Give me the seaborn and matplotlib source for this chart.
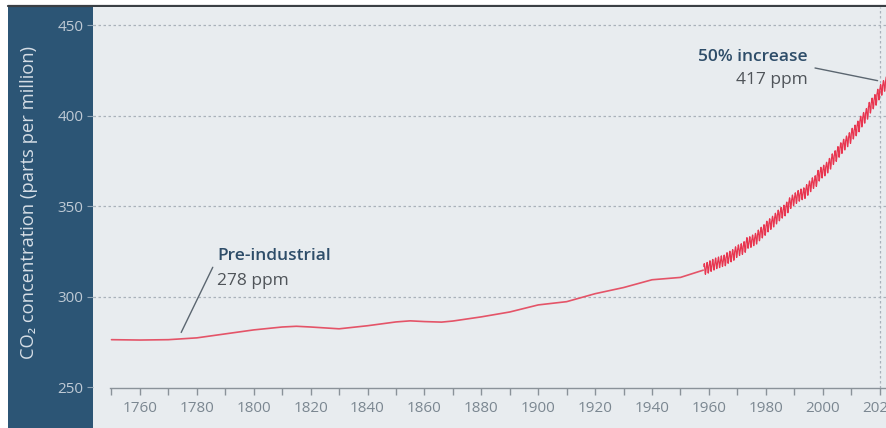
import matplotlib
matplotlib.use("Agg")
import matplotlib.pyplot as plt
from matplotlib.patches import Rectangle
from matplotlib.lines import Line2D
from matplotlib.ticker import MultipleLocator
import numpy as np
import pandas as pd
import seaborn as sns

# Ice-core era (smoothed record)
ice_years = [1750, 1760, 1770, 1780, 1790, 1800, 1810, 1815, 1820, 1830, 1840,
             1850, 1855, 1860, 1866, 1870, 1880, 1890, 1900, 1910, 1920, 1930,
             1940, 1950, 1958]
ice_ppm = [276.2, 276.0, 276.2, 277.2, 279.4, 281.6, 283.2, 283.6, 283.2, 282.2,
           283.9, 286.0, 286.6, 286.2, 285.9, 286.5, 288.8, 291.5, 295.4, 297.2,
           301.6, 305.0, 309.3, 310.6, 314.6]

# Mauna Loa annual means, 1958-2022
ml_years = list(range(1958, 2023))
ml_annual = [315.3, 315.98, 316.91, 317.64, 318.45, 318.99, 319.62, 320.04, 321.37,
             322.18, 323.05, 324.62, 325.68, 326.32, 327.46, 329.68, 330.19, 331.13,
             332.03, 333.84, 335.41, 336.84, 338.76, 340.12, 341.48, 343.15, 344.87,
             346.35, 347.61, 349.31, 351.69, 353.20, 354.45, 355.70, 356.54, 357.21,
             358.96, 360.97, 362.74, 363.88, 366.84, 368.54, 369.71, 371.32, 373.45,
             375.98, 377.70, 379.98, 382.09, 384.02, 385.83, 387.64, 390.10, 391.85,
             394.06, 396.74, 398.81, 401.01, 404.41, 406.76, 408.72, 411.66, 414.24,
             416.45, 418.56]
# Mean seasonal departure by calendar month (Jan..Dec)
seasonal = [0.0, 0.6, 1.3, 2.5, 2.9, 2.2, 0.8, -1.2, -2.8, -3.0, -1.9, -0.8]

y_ticks = [250, 300, 350, 400, 450]
x_ticks = list(range(1760, 2021, 20))

PANEL = "#2c5575"
BG = "#e8ecef"
RED = "#e8354f"
NAVY = "#2e4d69"

sns.set_theme(style="white")
plt.rcParams["font.family"] = ["Open Sans", "DejaVu Sans"]

ice_df = pd.DataFrame({"year": ice_years, "ppm": ice_ppm})
rows = []
for yr, base in zip(ml_years, ml_annual):
    for m, dev in enumerate(seasonal):
        if yr == 1958 and m < 2:
            continue
        if yr == 2022 and m > 4:
            continue
        rows.append((yr + (m + 0.5) / 12.0, base + dev))
ml_df = pd.DataFrame(rows, columns=["year", "ppm"])

fig = plt.figure(figsize=(8.87, 4.28), dpi=100, facecolor="white")
W, H = 887, 428

# background blocks, kept behind the axes
fig.patches.append(Rectangle((8 / W, 0), 1 - 8 / W, 1 - 6 / H, transform=fig.transFigure,
                             facecolor=BG, edgecolor="none", zorder=-3))
fig.patches.append(Rectangle((8 / W, 0), (93 - 8) / W, 1 - 6 / H, transform=fig.transFigure,
                             facecolor=PANEL, edgecolor="none", zorder=-2))
fig.lines.append(Line2D([8 / W, 1], [1 - 5.5 / H, 1 - 5.5 / H], transform=fig.transFigure,
                        color="#3a3f44", lw=1.6, zorder=-1))

ax = fig.add_axes([93 / W, 1 - 388 / H, (W - 93) / W, (388 - 7) / H])
ax.set_zorder(2)
ax.set_facecolor(BG)

sns.lineplot(data=ice_df, x="year", y="ppm", ax=ax, color="#e45468", lw=1.2)
sns.lineplot(data=ml_df, x="year", y="ppm", ax=ax, color=RED, lw=0.9)

ax.set_xlim(1743.5, 2022.6)
ax.set_ylim(249.5, 460)

ax.set_yticks(y_ticks)
ax.set_xticks(x_ticks)
ax.xaxis.set_minor_locator(MultipleLocator(10))
for v in y_ticks[1:]:
    ax.axhline(v, color="#a9b2ba", lw=0.9, ls=(0, (2, 2)), zorder=0)
ax.axvline(2020, color="#a9b2ba", lw=0.9, ls=(0, (2, 2)), zorder=0)

for s in ["top", "right", "left"]:
    ax.spines[s].set_visible(False)
ax.spines["bottom"].set_color("#8a9299")
ax.spines["bottom"].set_linewidth(1.0)
ax.spines["bottom"].set_bounds(1749.5, 2022.6)

ax.tick_params(axis="x", which="both", bottom=True, direction="out", length=5,
               width=1, color="#8a9299", labelsize=11, labelcolor="#7b8791", pad=4)
ax.tick_params(axis="y", left=True, direction="out", length=4, width=0.8,
               color="#8fa3b5", labelsize=11, labelcolor="#bfcad5", pad=3)
ax.set_xlabel("")
ax.set_ylabel("CO₂ concentration (parts per million)", color="#d6dee6",
              fontsize=13.2)
ax.yaxis.set_label_coords(-0.069, 0.488)

# annotations
ax.plot([1774.5, 1785.6], [280.2, 316.2], color="#5b6670", lw=1.0)
ax.text(1787.2, 322.4, "Pre-industrial", fontsize=12.5, fontweight="semibold",
        color=NAVY, ha="left", va="center")
ax.text(1787.2, 308.8, "278 ppm", fontsize=12.5, color="#4f5459",
        ha="left", va="center")

ax.plot([1997.3, 2019.3], [426.3, 419.3], color="#5b6670", lw=1.0)
ax.text(1994.8, 432.4, "50% increase", fontsize=12.5, fontweight="semibold",
        color=NAVY, ha="right", va="center")
ax.text(1994.8, 419.4, "417 ppm", fontsize=12.5, color="#4f5459",
        ha="right", va="center")

fig.savefig("out.png", dpi=100, facecolor="white")
